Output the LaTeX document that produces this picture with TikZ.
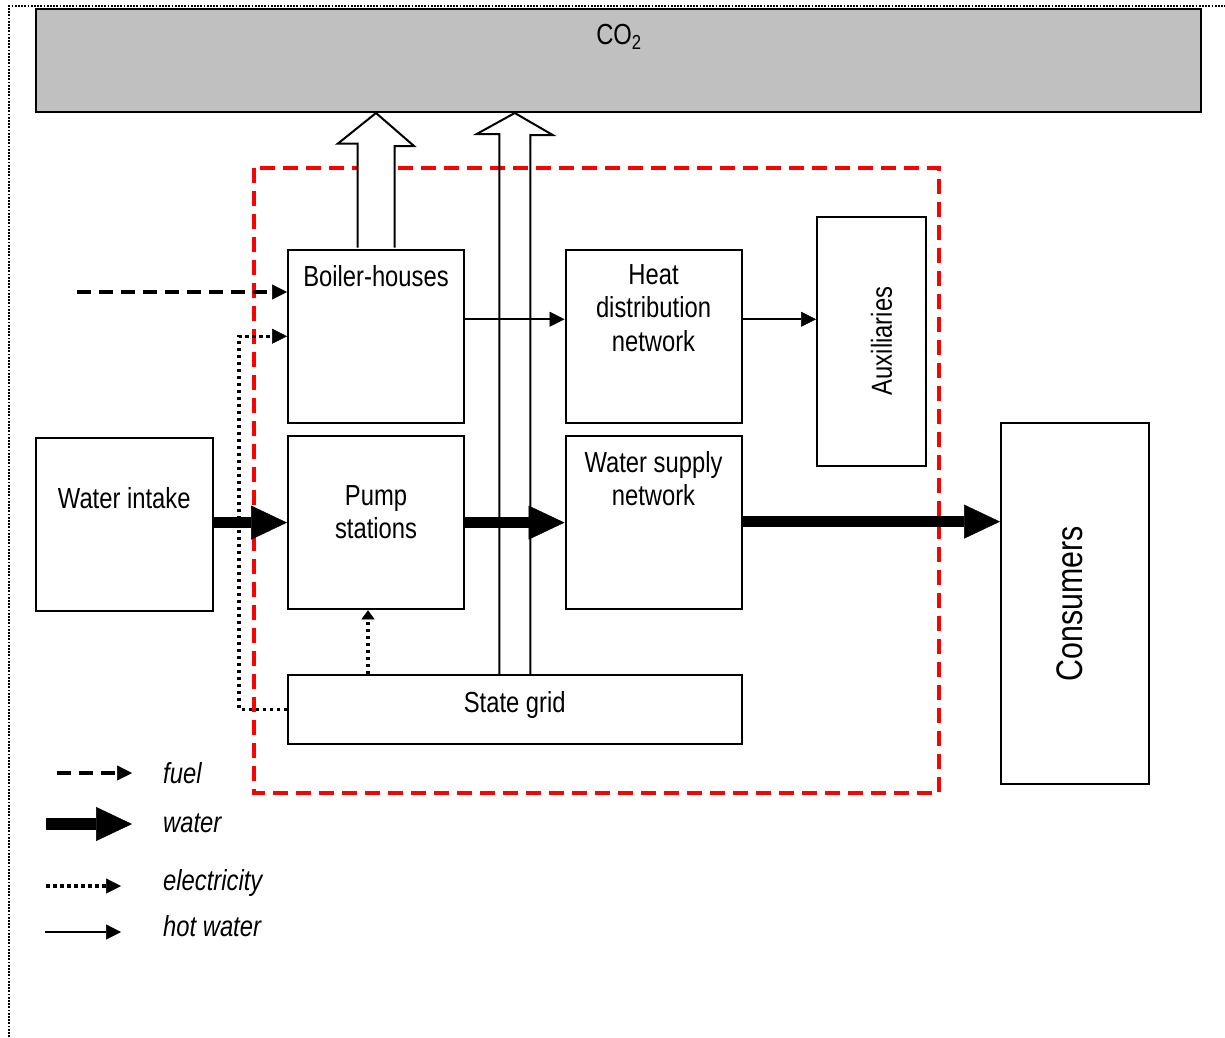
\documentclass[tikz,border=0pt]{standalone}
\usepackage{fontspec}
\setmainfont{Liberation Sans}[FakeStretch=0.82]
\usetikzlibrary{arrows.meta,calc}
\definecolor{co2Gray}{RGB}{192,192,192}
\definecolor{boundRed}{RGB}{255,0,0}
\tikzset{
  blk/.style 2 args={draw, line width=2pt, fill=white, minimum width=#1, minimum height=#2, inner sep=0pt},
  txt/.style={inner sep=0pt, align=center, font=\fontsize{29}{33.5}\selectfont},
  lgTxt/.style={inner sep=0pt, font=\fontsize{29}{33.5}\selectfont\itshape},
  fuelArr/.style={line width=3.2pt, dash pattern=on 14pt off 8pt, -{Triangle[length=15pt,width=15pt,line width=0.5pt]}},
  waterArr/.style={line width=11pt, -{Triangle[length=36pt,width=34pt,line width=0.5pt]}},
  elecArr/.style={line width=3.5pt, dash pattern=on 3.5pt off 3.5pt, -{Triangle[length=15pt,width=15pt,line width=0.5pt]}},
  hotArr/.style={line width=2pt, -{Triangle[length=15pt,width=15pt,line width=0.5pt]}},
  co2Arr/.style={line width=2pt, line join=miter}
}
\begin{document}
\begin{tikzpicture}[x=1pt, y=-1pt]
  \useasboundingbox (0,0) rectangle (1225,1037);
  % frame and system boundary
  \draw[line width=1.8pt, dash pattern=on 1.8pt off 1.4pt] (9,1037) -- (9,6) -- (1225,6);
  \draw[boundRed, line width=3.8pt, dash pattern=on 15pt off 8pt] (254,168) rectangle (939,793);

  % 1. blocks
  \node[blk={1165pt}{103pt}, fill=co2Gray] (co2) at (618.5,60.5) {};
  \node[blk={176pt}{173.5pt}] (boiler) at (376,336.25) {};
  \node[blk={176pt}{173.5pt}] (heat) at (653.5,336.25) {};
  \node[blk={109pt}{248.5pt}] (aux) at (871.5,341.25) {};
  \node[blk={176.5pt}{172.5pt}] (intake) at (124.25,524.25) {};
  \node[blk={176pt}{173.3pt}] (pump) at (376,522.6) {};
  \node[blk={176pt}{173.3pt}] (wsn) at (653.5,522.6) {};
  \node[blk={147.5pt}{361pt}] (consumers) at (1074.75,603.5) {};
  \node[blk={453.5pt}{68.5pt}] (grid) at (514.75,709.25) {};

  % 2. block texts
  \node[txt, anchor=base] (co2T) at (619,44) {CO\textsubscript{2}};
  \node[txt, anchor=north] (boilerT) at (376,265) {Boiler-houses};
  \node[txt, anchor=north] (heatT) at (653.5,264) {Heat\\distribution\\network};
  \node[txt, rotate=90] (auxT) at (881.5,341) {Auxiliaries};
  \node[txt, anchor=north] (intakeT) at (124.25,487) {Water intake};
  \node[txt, anchor=north] (pumpT) at (376,485) {Pump\\stations};
  \node[txt, anchor=north] (wsnT) at (653.5,451) {Water supply\\network};
  \node[txt, anchor=north] (gridT) at (514.75,691) {State grid};
  \node[txt, rotate=90, font=\fontsize{37}{40}\selectfont] (consT) at (1069.5,604) {Consumers};

  % 3. emissions
  \draw[co2Arr, fill=white] ([xshift=-18.5pt,yshift=1pt]boiler.north) -- ++(0,-104) -- ++(-19.5,0)
    -- (boiler.north |- co2.south) -- ++(38,33) -- ++(-19.5,0) -- ([xshift=18.5pt,yshift=1pt]boiler.north);
  \draw[co2Arr] ([xshift=-15.5pt]grid.north) -- ++(0,-540) -- ++(-22.5,0)
    -- (grid.north |- co2.south) -- ++(38,22) -- ++(-22.5,0) -- ([xshift=15.5pt]grid.north);

  % 4. flows
  \coordinate (fuelIn) at (77,292);
  \draw[fuelArr] (fuelIn) -- (fuelIn -| boiler.west);
  \draw[elecArr] (grid.west) -- ++(-48,0) |- (boiler.west);
  \draw[elecArr, -{Triangle[length=9pt,width=13pt,line width=0.5pt]}] ([xshift=-8pt]pump.south |- grid.north) -- ([xshift=-8pt]pump.south);
  \draw[hotArr] ([yshift=17pt]boiler.east) -- ([yshift=17pt]heat.west);
  \draw[hotArr] ([yshift=17pt]heat.east) -- ([yshift=17pt]heat.east -| aux.west);
  \draw[waterArr] (intake.east |- pump.west) -- (pump.west);
  \draw[waterArr] (pump.east) -- (wsn.west);
  \draw[waterArr] ([yshift=1pt]wsn.east) -- ([yshift=1pt]wsn.east -| consumers.west);

  % 5. legend
  \coordinate (lgFuelA) at (57,773);  \coordinate (lgFuelB) at (132,773);
  \coordinate (lgWaterA) at (46,824); \coordinate (lgWaterB) at (132,824);
  \coordinate (lgElecA) at (46,886);  \coordinate (lgElecB) at (121,886);
  \coordinate (lgHotA) at (45,932);   \coordinate (lgHotB) at (121,932);
  \draw[fuelArr] (lgFuelA) -- (lgFuelB);
  \draw[waterArr, line width=12pt] (lgWaterA) -- (lgWaterB);
  \draw[elecArr] (lgElecA) -- (lgElecB);
  \draw[hotArr] (lgHotA) -- (lgHotB);
  \node[lgTxt, anchor=base west] (lgFuel) at (163,783) {fuel};
  \node[lgTxt, anchor=base west] (lgWater) at (163,832) {water};
  \node[lgTxt, anchor=base west] (lgElec) at (163,890) {electricity};
  \node[lgTxt, anchor=base west] (lgHot) at (163,936) {hot water};
\end{tikzpicture}
\end{document}
